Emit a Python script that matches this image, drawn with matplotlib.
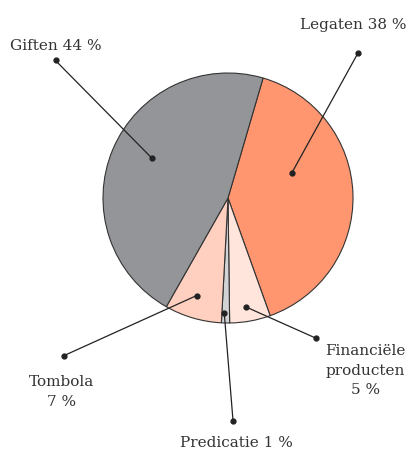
import matplotlib.pyplot as plt

# inkomsten per bron (procent)
labels = ["Legaten 38 %", "Financiële\nproducten\n5 %", "Predicatie 1 %", "Tombola\n7 %", "Giften 44 %"]
values = [38, 5, 1, 7, 44]
colors = ["#ff9670", "#ffe5dc", "#d1d3d4", "#ffd0bf", "#939598"]

# leader lines: punt in het vlak, punt bij het label, plek van de tekst (data-coords, straal = 1)
inner_pt = [(0.51, 0.20), (0.14, -0.87), (-0.03, -0.92), (-0.25, -0.78), (-0.61, 0.32)]
outer_pt = [(1.04, 1.16), (0.70, -1.12), (0.04, -1.78), (-1.31, -1.26), (-1.38, 1.10)]
text_pt = [(1.00, 1.35), (1.10, -1.57), (0.07, -1.99), (-1.33, -1.66), (-1.38, 1.18)]

W, H = 411, 450
cx, cy, R = 228, 198, 125

fig = plt.figure(figsize=(W / 100, H / 100), dpi=100)
ax = fig.add_axes([0, 0, 1, 1])

wedges, _ = ax.pie(values, colors=colors, startangle=73.7, counterclock=False,
                   radius=1, wedgeprops=dict(edgecolor="#333333", linewidth=0.8))

for ip, op, tp, lab in zip(inner_pt, outer_pt, text_pt, labels):
    ax.plot([ip[0], op[0]], [ip[1], op[1]], color="#222222", lw=0.9, zorder=3)
    ax.plot([ip[0], op[0]], [ip[1], op[1]], "o", color="#222222", ms=3.5, zorder=4)
    ax.text(tp[0], tp[1], lab, ha="center", va="baseline", fontsize=11,
            family="DejaVu Serif", color="#333333", linespacing=1.5,
            multialignment="center")

ax.set_xlim(-cx / R, (W - cx) / R)
ax.set_ylim(-(H - cy) / R, cy / R)
ax.set_aspect("equal")
ax.axis("off")

fig.savefig("out.png", dpi=100)
